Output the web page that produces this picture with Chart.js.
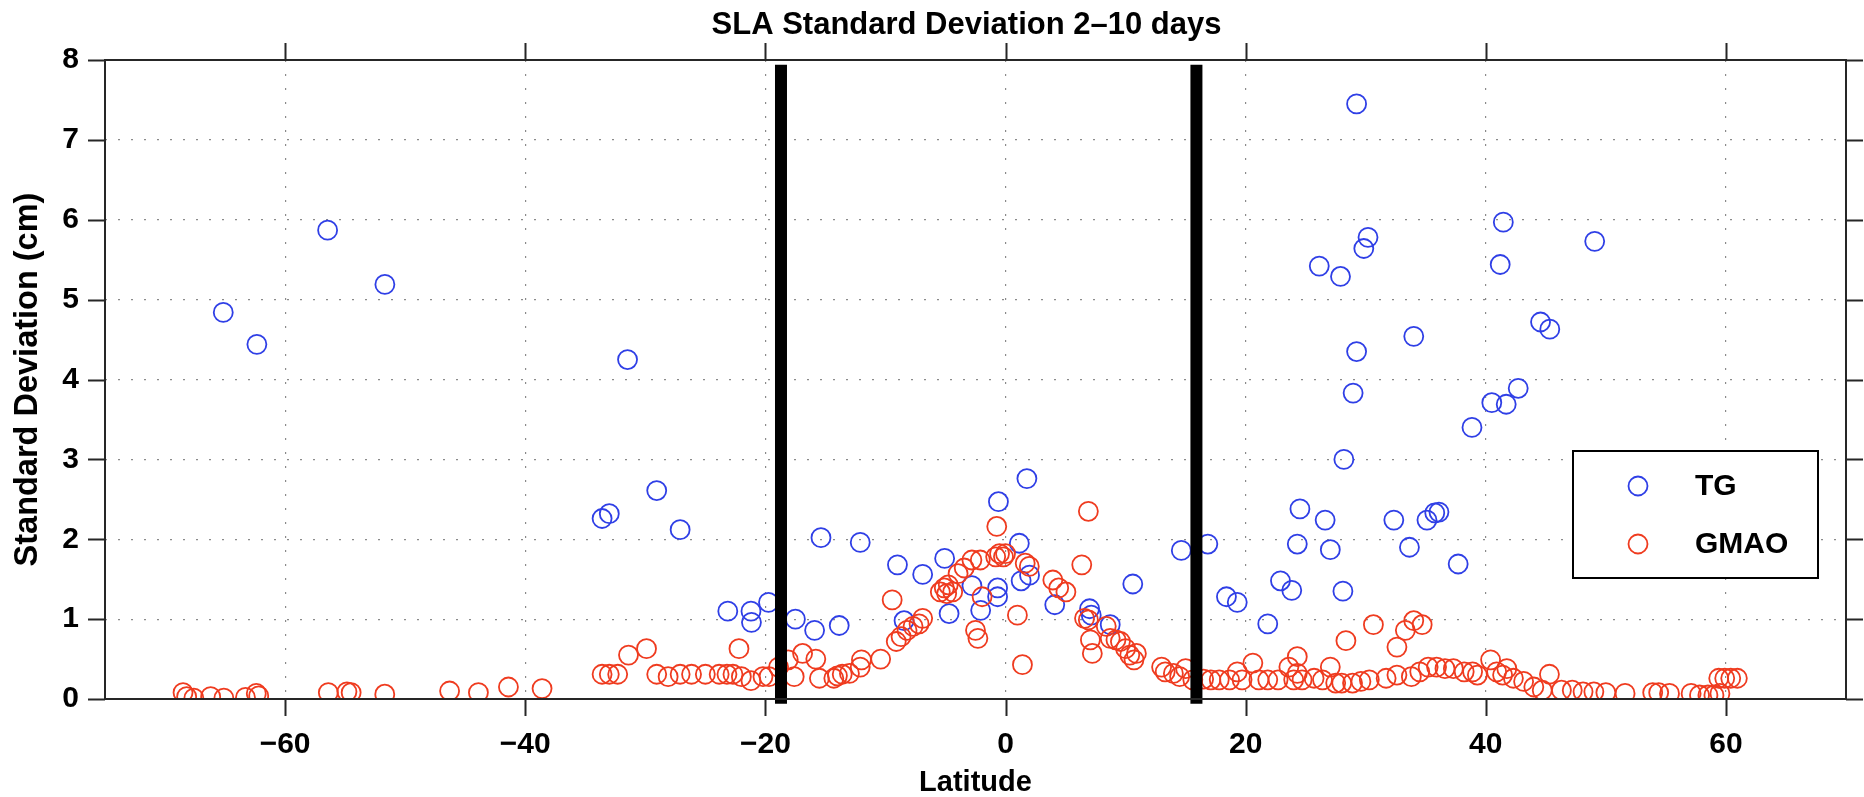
<!DOCTYPE html>
<html>
<head>
<meta charset="utf-8">
<title>SLA Standard Deviation 2-10 days</title>
<script src="https://cdn.jsdelivr.net/npm/chart.js@4.4.1/dist/chart.umd.min.js"></script>
<style>
    html, body { margin: 0; padding: 0; background: #fff; }
    #wrap { width: 1864px; height: 797px; }
</style>
</head>
<body>
<div id="wrap"><canvas id="chart" width="1864" height="797"></canvas></div>
<script>
// ---------- DATA ----------
const chartTitle = 'SLA Standard Deviation 2\u201310 days';
const xTicks = [-60, -40, -20, 0, 20, 40, 60];
const yTicks = [0, 1, 2, 3, 4, 5, 6, 7, 8];

const seriesNames = ['TG', 'GMAO'];

// TG stations: latitude / std dev (cm)
const tgLat = [
    -65.15, -62.35, -56.46, -51.69, -31.48, -33.6, -33.0, -29.05, -27.1, -23.13,
    -21.2, -21.16, -19.74, -17.5, -15.9, -15.37, -13.85, -12.1, -9.0, -8.45,
    -6.9, -5.07, -4.7, -2.8, -2.07, -0.59, -0.66, -0.66, 1.15, 1.3,
    2.0, 1.78, 4.1, 7.0, 7.14, 8.72, 10.6, 14.64, 16.85, 18.4,
    19.3, 21.84, 22.9, 23.84, 24.3, 24.52, 26.62, 27.05, 28.1, 28.18,
    32.34, 33.64, 35.1, 35.75, 36.1, 37.7, 38.85, 40.5, 41.7, 42.7,
    28.95, 29.24, 34.0, 44.56, 45.33, 41.2, 26.13, 27.9, 29.84, 30.19,
    49.07, 41.46, 29.24
];
const tgVal = [
    4.84, 4.44, 5.87, 5.19, 4.25, 2.26, 2.32, 2.61, 2.12, 1.10,
    1.10, 0.96, 1.21, 1.00, 0.86, 2.02, 0.92, 1.96, 1.68, 0.98,
    1.56, 1.76, 1.07, 1.42, 1.11, 2.47, 1.39, 1.28, 1.95, 1.48,
    1.55, 2.76, 1.18, 1.13, 1.05, 0.93, 1.44, 1.86, 1.94, 1.28,
    1.21, 0.94, 1.48, 1.36, 1.94, 2.38, 2.24, 1.87, 1.35, 3.00,
    2.24, 1.90, 2.24, 2.33, 2.34, 1.69, 3.40, 3.71, 3.69, 3.89,
    3.83, 4.35, 4.54, 4.72, 4.63, 5.44, 5.42, 5.29, 5.64, 5.78,
    5.73, 5.97, 7.45
];

// GMAO model at the same kind of sites
const gmaoLat = [
    -68.5, -68.2, -67.6, -66.2, -65.1, -63.3, -62.4, -62.2, -56.4, -54.85,
    -54.5, -51.7, -46.3, -43.9, -41.4, -38.6, -33.6, -33.0, -32.3, -31.4,
    -29.9, -29.05, -28.1, -27.1, -26.15, -25.0, -23.85, -23.2, -22.7, -22.2,
    -22.0, -21.2, -20.2, -19.7, -18.9, -18.1, -17.6, -16.9, -15.8, -15.5,
    -14.3, -14.0, -13.6, -13.0, -12.1, -12.0, -10.4, -9.44, -9.1, -8.7,
    -8.2, -7.7, -7.2, -6.9, -5.43, -5.1, -4.9, -4.77, -4.4, -3.95,
    -3.44, -2.8, -2.5, -2.3, -2.1, -1.95, -0.82, -0.73, -0.5, -0.17,
    0.0, 0.99, 1.41, 1.64, 1.98, 3.94, 4.43, 5.03, 6.35, 6.9,
    6.58, 6.9, 7.07, 7.23, 8.39, 8.72, 9.2, 9.57, 10.0, 10.35,
    10.7, 10.9, 13.0, 13.3, 13.98, 14.5, 15.0, 15.6, 16.5, 17.1,
    17.8, 18.66, 19.3, 19.7, 20.6, 21.1, 21.84, 22.7, 23.6, 24.0,
    24.3, 24.3, 24.7, 25.7, 26.4, 27.05, 27.5, 28.0, 28.35, 28.9,
    29.6, 30.3, 30.64, 31.7, 32.6, 32.6, 33.3, 33.8, 34.0, 34.7,
    34.5, 35.2, 35.9, 36.6, 37.3, 38.2, 38.9, 39.3, 40.4, 40.9,
    41.4, 41.75, 42.3, 43.15, 44.0, 44.7, 45.3, 46.3, 47.2, 48.1,
    49.0, 50.0, 51.6, 53.9, 54.4, 55.3, 57.1, 57.8, 58.5, 59.0,
    59.5, 59.4, 59.9, 60.4, 60.95
];
const gmaoVal = [
    0.08, 0.03, 0.01, 0.03, 0.01, 0.02, 0.07, 0.04, 0.08, 0.09,
    0.08, 0.06, 0.10, 0.08, 0.15, 0.13, 0.31, 0.31, 0.31, 0.55,
    0.63, 0.31, 0.28, 0.31, 0.31, 0.31, 0.31, 0.31, 0.31, 0.63,
    0.28, 0.23, 0.28, 0.28, 0.40, 0.49, 0.28, 0.57, 0.50, 0.26,
    0.26, 0.29, 0.31, 0.32, 0.40, 0.49, 0.50, 1.24, 0.72, 0.78,
    0.86, 0.91, 0.94, 1.01, 1.34, 1.39, 1.32, 1.43, 1.34, 1.57,
    1.64, 1.74, 0.86, 0.76, 1.74, 1.28, 1.78, 2.16, 1.82, 1.78,
    1.82, 1.05, 0.43, 1.70, 1.66, 1.49, 1.39, 1.34, 1.68, 2.35,
    1.01, 0.99, 0.74, 0.57, 0.91, 0.76, 0.74, 0.72, 0.63, 0.55,
    0.49, 0.57, 0.40, 0.34, 0.32, 0.28, 0.38, 0.24, 0.25, 0.24,
    0.24, 0.24, 0.34, 0.24, 0.45, 0.24, 0.24, 0.24, 0.40, 0.24,
    0.53, 0.32, 0.24, 0.26, 0.24, 0.40, 0.20, 0.20, 0.73, 0.20,
    0.22, 0.24, 0.93, 0.26, 0.65, 0.30, 0.86, 0.28, 0.98, 0.93,
    0.34, 0.40, 0.40, 0.38, 0.38, 0.34, 0.34, 0.30, 0.49, 0.34,
    0.30, 0.38, 0.26, 0.22, 0.15, 0.11, 0.31, 0.11, 0.11, 0.09,
    0.09, 0.08, 0.07, 0.08, 0.08, 0.07, 0.07, 0.05, 0.05, 0.05,
    0.07, 0.26, 0.26, 0.26, 0.26
];

// the two thick black latitude markers
const markerLats = [-18.7, 15.9];
const markerRange = [-0.06, 7.94];

// ---------- STYLE ----------
const FONT = '"Liberation Sans", Arial, Helvetica, sans-serif';
const BLUE = '#2f3fe6';
const RED = '#ef3b1f';
const AXIS = '#262626';

function toPoints(xs, ys) {
    return xs.map((x, i) => ({ x: x, y: ys[i] }));
}

function fmtTick(v) {
    return String(v).replace('-', '\u2212');
}

// ---------- FRAME + TITLE + LEGEND PLUGIN ----------
const framePlugin = {
    id: 'frame',
    afterDraw(chart) {
        const ctx = chart.ctx;
        const a = chart.chartArea;
        const xs = chart.scales.x;
        const ys = chart.scales.y;
        const tick = 17;

        ctx.save();

        // title, centred over the plot box
        ctx.fillStyle = '#000';
        ctx.font = 'bold 31px ' + FONT;
        ctx.textAlign = 'center';
        ctx.textBaseline = 'alphabetic';
        ctx.fillText(chartTitle, (a.left + a.right) / 2 - 9, 34);

        ctx.strokeStyle = AXIS;
        ctx.lineWidth = 2;
        ctx.strokeRect(a.left, a.top, a.right - a.left, a.bottom - a.top);

        ctx.beginPath();
        xTicks.forEach(v => {
            const px = Math.round(xs.getPixelForValue(v)) + 0.5;
            ctx.moveTo(px, a.top); ctx.lineTo(px, a.top - tick);
            ctx.moveTo(px, a.bottom); ctx.lineTo(px, a.bottom + tick);
        });
        yTicks.forEach(v => {
            const py = Math.round(ys.getPixelForValue(v)) + 0.5;
            ctx.moveTo(a.left, py); ctx.lineTo(a.left - tick, py);
            ctx.moveTo(a.right, py); ctx.lineTo(a.right + tick, py);
        });
        ctx.stroke();

        // legend box
        const lx = 1573, ly = 451, lw = 245, lh = 127;
        ctx.fillStyle = '#fff';
        ctx.fillRect(lx, ly, lw, lh);
        ctx.strokeStyle = '#000';
        ctx.lineWidth = 2;
        ctx.strokeRect(lx, ly, lw, lh);

        const rows = [
            { name: seriesNames[0], color: BLUE, y: 486 },
            { name: seriesNames[1], color: RED, y: 544 }
        ];
        ctx.font = 'bold 30px ' + FONT;
        ctx.textBaseline = 'middle';
        ctx.textAlign = 'left';
        rows.forEach(r => {
            ctx.beginPath();
            ctx.strokeStyle = r.color;
            ctx.lineWidth = 1.8;
            ctx.arc(1638, r.y, 9.5, 0, Math.PI * 2);
            ctx.stroke();
            ctx.fillStyle = '#000';
            ctx.fillText(r.name, 1695, r.y + 1);
        });
        ctx.restore();
    }
};

// ---------- CHART ----------
function markerDataset(lat) {
    return {
        label: 'marker',
        data: markerRange.map(v => ({ x: lat, y: v })),
        showLine: true,
        borderColor: '#000',
        borderWidth: 12,
        borderCapStyle: 'butt',
        pointRadius: 0,
        clip: false,
        order: 0
    };
}

function buildChart() {
    const ctx = document.getElementById('chart');

    new Chart(ctx, {
        type: 'scatter',
        data: {
            datasets: [
                {
                    label: seriesNames[0],
                    data: toPoints(tgLat, tgVal),
                    pointStyle: 'circle',
                    pointRadius: 9.5,
                    borderWidth: 1.8,
                    borderColor: BLUE,
                    backgroundColor: 'rgba(0,0,0,0)',
                    order: 2
                },
                {
                    label: seriesNames[1],
                    data: toPoints(gmaoLat, gmaoVal),
                    pointStyle: 'circle',
                    pointRadius: 9.5,
                    borderWidth: 1.8,
                    borderColor: RED,
                    backgroundColor: 'rgba(0,0,0,0)',
                    order: 1
                },
                markerDataset(markerLats[0]),
                markerDataset(markerLats[1])
            ]
        },
        options: {
            responsive: false,
            animation: false,
            devicePixelRatio: 1,
            layout: { padding: { left: 0, right: 18, top: 60, bottom: 0 } },
            plugins: {
                legend: { display: false },
                tooltip: { enabled: false },
                title: { display: false }
            },
            scales: {
                x: {
                    type: 'linear',
                    min: -75,
                    max: 70,
                    afterBuildTicks: s => { s.ticks = xTicks.map(v => ({ value: v })); },
                    afterFit: s => { s.height = 98; },
                    grid: { color: '#8a8a8a', lineWidth: 1.2, drawTicks: false },
                    border: { display: false, dash: [2, 12] },
                    ticks: {
                        color: '#000',
                        padding: 28,
                        font: { family: FONT, size: 30, weight: 'bold' },
                        callback: v => fmtTick(v)
                    },
                    title: {
                        display: true,
                        text: 'Latitude',
                        color: '#000',
                        font: { family: FONT, size: 29, weight: 'bold', lineHeight: 1 },
                        padding: { top: 0, bottom: 0 }
                    }
                },
                y: {
                    type: 'linear',
                    min: 0,
                    max: 8,
                    afterBuildTicks: s => { s.ticks = yTicks.map(v => ({ value: v })); },
                    afterFit: s => { s.width = 105; },
                    grid: { color: '#8a8a8a', lineWidth: 1.2, drawTicks: false },
                    border: { display: false, dash: [2, 11] },
                    ticks: {
                        color: '#000',
                        padding: 26,
                        font: { family: FONT, size: 30, weight: 'bold' }
                    },
                    title: {
                        display: true,
                        text: 'Standard Deviation (cm)',
                        color: '#000',
                        font: { family: FONT, size: 32.5, weight: 'bold' },
                        padding: { top: 9, bottom: 0 }
                    }
                }
            }
        },
        plugins: [framePlugin]
    });
}

if (document.readyState === 'loading') {
    document.addEventListener('DOMContentLoaded', buildChart);
} else {
    buildChart();
}
</script>
</body>
</html>
